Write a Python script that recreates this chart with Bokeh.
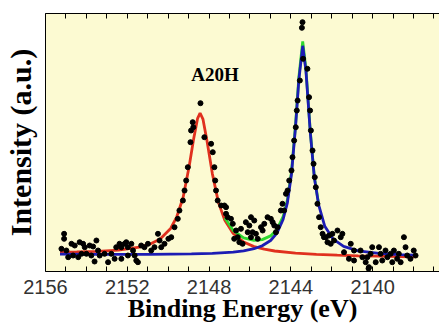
from bokeh.plotting import figure
from bokeh.models import Range1d, FixedTicker, LinearAxis, Label
from bokeh.embed import file_html
from bokeh.resources import INLINE

# ---------------- data ----------------
x_ticks = [2156, 2152, 2148, 2144, 2140]
x_minor = [2155, 2154, 2153, 2151, 2150, 2149, 2147, 2146, 2145, 2143, 2142, 2141, 2139, 2138, 2137]

red_E = [2155.29, 2154.47, 2153.45, 2152.43, 2151.41, 2150.90, 2150.39, 2149.88, 2149.58, 2149.27,
         2148.97, 2148.76, 2148.56, 2148.44, 2148.30, 2148.10, 2147.84, 2147.54, 2147.23, 2146.82,
         2146.31, 2145.80, 2145.30, 2144.79, 2143.77, 2142.75, 2141.73, 2140.71, 2139.69, 2138.67, 2137.95]
red_I = [18.4, 18.6, 19.2, 20.4, 23.3, 26.3, 31.6, 42.0, 53.7, 73.0,
         104.5, 131.0, 152.2, 157.5, 151.4, 129.4, 96.9, 67.9, 50.3, 37.1,
         28.5, 23.9, 21.3, 19.5, 17.4, 16.2, 15.4, 14.7, 14.3, 13.9, 13.6]

blue_E = [2155.29, 2152.94, 2150.90, 2148.86, 2147.84, 2146.82, 2146.31, 2145.80, 2145.40, 2144.99,
          2144.68, 2144.38, 2144.17, 2143.97, 2143.77, 2143.61, 2143.42, 2143.26, 2143.05, 2142.85,
          2142.64, 2142.34, 2141.93, 2141.42, 2140.71, 2139.69, 2138.67, 2137.95]
blue_I = [16.3, 16.1, 16.2, 16.6, 17.2, 18.4, 19.7, 21.8, 24.7, 30.0,
          37.4, 51.0, 67.7, 96.2, 143.9, 190.4, 224.7, 199.2, 138.2, 92.6,
          65.6, 44.2, 31.3, 24.1, 19.6, 17.1, 15.9, 15.3]

green_E = [2147.23, 2146.82, 2146.31, 2145.80, 2145.40, 2144.99, 2144.68, 2144.38,
           2144.17, 2143.97, 2143.77, 2143.61, 2143.42, 2143.26, 2143.05, 2142.85, 2142.64]
green_I = [52.7, 40.0, 32.7, 30.2, 30.9, 34.6, 41.1, 54.0,
           70.4, 98.6, 145.8, 193.0, 229.0, 201.0, 139.4, 93.6, 66.5]

dot_E = [
    2155.09, 2155.09, 2155.22, 2154.98, 2154.73, 2154.57, 2154.33, 2154.16, 2154.08, 2153.84,
    2153.67, 2153.51, 2153.43, 2153.60, 2153.35, 2153.11, 2152.94, 2152.78, 2152.62, 2152.54,
    2152.38, 2152.29, 2152.13, 2152.05, 2151.97, 2151.80, 2151.72, 2151.64, 2151.56, 2151.48,
    2151.32, 2151.16, 2150.99, 2150.83, 2150.67, 2150.50, 2150.42, 2150.34, 2154.89, 2154.65,
    2154.40, 2154.24, 2154.00, 2153.76, 2151.97, 2152.29,
    2148.42, 2148.88, 2148.77, 2148.91, 2148.80, 2148.23, 2147.90, 2147.82, 2149.04, 2149.12,
    2149.20, 2149.28, 2149.45, 2149.53, 2149.69, 2149.85, 2149.99, 2150.18, 2147.74, 2147.70,
    2147.66, 2147.58, 2147.41, 2147.25, 2147.17, 2147.09, 2146.93, 2146.84, 2146.68, 2146.60,
    2146.52,
    2147.17, 2146.77, 2146.36, 2146.44, 2146.20, 2146.03, 2145.95, 2145.79, 2146.11, 2145.87,
    2145.71, 2145.95, 2145.62, 2145.46, 2145.38, 2145.30, 2145.14, 2144.98, 2144.89, 2144.81,
    2144.65, 2144.73, 2144.49, 2144.41, 2144.24,
    2143.43, 2143.46, 2143.40, 2143.19, 2143.56, 2143.11, 2143.67, 2143.71, 2143.06, 2143.76,
    2143.02, 2143.84, 2142.94, 2143.92, 2142.89, 2143.97, 2144.08, 2142.83, 2142.78, 2144.16,
    2142.70, 2144.33, 2142.62, 2142.54, 2142.45, 2142.38,
    2142.29, 2142.21, 2142.13, 2141.97, 2141.89, 2141.72, 2141.56, 2141.48, 2142.05, 2141.40,
    2141.16, 2141.07, 2140.91, 2140.59, 2140.34, 2140.26, 2140.18, 2140.10, 2140.02, 2139.85,
    2139.69, 2139.61, 2139.53, 2139.37, 2139.28, 2139.12, 2139.04, 2138.96, 2138.80, 2138.72,
    2138.63, 2138.47, 2138.39, 2138.31, 2138.15, 2137.99, 2137.90, 2140.91, 2140.50, 2140.20,
]
dot_I = [
    36.7, 31.7, 21.7, 20.0, 26.7, 25.0, 28.3, 26.7, 23.3, 25.0,
    24.0, 30.0, 20.0, 9.0, 15.0, 16.7, 8.3, 16.7, 11.7, 23.3,
    26.7, 23.3, 26.7, 28.3, 23.3, 26.7, 20.0, 15.0, 10.0, 8.3,
    25.0, 23.3, 26.7, 20.0, 23.3, 36.7, 30.0, 23.3, 13.3, 15.0,
    13.3, 16.7, 16.7, 15.0, 15.0, 11.7,
    167.3, 140.0, 143.3, 128.3, 148.3, 133.3, 126.7, 118.3, 103.3, 90.0,
    80.0, 70.0, 60.0, 51.7, 43.3, 33.3, 31.7, 26.7, 103.3, 90.0,
    80.0, 70.0, 65.0, 65.0, 56.7, 53.3, 51.7, 46.7, 40.0, 33.3,
    28.3,
    63.3, 31.7, 26.7, 41.7, 48.3, 45.0, 53.3, 50.0, 38.3, 38.3,
    36.7, 33.3, 31.7, 43.3, 40.0, 46.7, 53.3, 51.7, 48.3, 45.0,
    43.3, 38.3, 60.0, 66.7, 76.7,
    248.3, 242.7, 211.7, 201.7, 190.0, 173.3, 170.0, 160.0, 160.0, 143.3,
    140.0, 130.0, 120.0, 113.3, 106.7, 100.0, 90.0, 93.3, 83.3, 80.0,
    66.7, 60.0, 53.3, 43.3, 36.7, 33.3,
    33.3, 28.3, 35.0, 36.7, 30.0, 40.0, 33.3, 36.7, 26.7, 18.3,
    11.7, 26.7, 20.0, 20.0, 8.3, 13.3, 3.3, 16.7, 23.3, 8.3,
    23.3, 16.7, 10.0, 20.0, 13.3, 16.7, 8.3, 20.0, 11.7, 16.7,
    8.3, 33.3, 23.3, 15.0, 11.7, 20.0, 15.0, 10.0, 13.3, 2.0,
]

sample_name = "A20H"
x_title = "Binding Energy (eV)"
y_title = "Intensity (a.u.)"

# ---------------- figure ----------------
p = figure(width=439, height=332, output_backend="svg", toolbar_location=None,
           x_range=Range1d(2156, 2136.73), y_range=Range1d(-1, 257),
           x_axis_location=None, y_axis_location=None,
           min_border_left=44, min_border_right=0, min_border_top=13, min_border_bottom=61)
p.border_fill_color = "white"
p.background_fill_color = "#FCFAD2"
p.outline_line_color = None
p.grid.visible = False

ticker = FixedTicker(ticks=x_ticks, minor_ticks=x_minor)

xb = LinearAxis(ticker=ticker, bounds=(2135.32, 2156))
xb.major_tick_in = 5
xb.major_tick_out = 0
xb.minor_tick_in = 5
xb.minor_tick_out = 0
xb.axis_line_color = "black"
xb.major_tick_line_color = "black"
xb.minor_tick_line_color = "black"
xb.major_label_text_font = "Liberation Sans"
xb.major_label_text_font_size = "20px"
xb.major_label_text_color = "#333333"
xb.major_label_standoff = 8
xb.axis_label = x_title
xb.axis_label_text_font = "Liberation Serif"
xb.axis_label_text_font_style = "bold"
xb.axis_label_text_font_size = "26px"
xb.axis_label_text_color = "black"
xb.axis_label_standoff = -3
p.add_layout(xb, "below")

xt = LinearAxis(ticker=ticker)
xt.major_tick_in = 5
xt.major_tick_out = 0
xt.minor_tick_in = 5
xt.minor_tick_out = 0
xt.axis_line_color = "black"
xt.major_tick_line_color = "black"
xt.minor_tick_line_color = "black"
xt.major_label_text_font_size = "0px"
xt.major_label_text_color = None
xt.major_label_standoff = 0
p.add_layout(xt, "above")

yl = LinearAxis(ticker=FixedTicker(ticks=[]))
yl.major_tick_in = 0
yl.major_tick_out = 0
yl.minor_tick_in = 0
yl.minor_tick_out = 0
yl.major_label_text_font_size = "0px"
yl.major_label_standoff = 0
yl.axis_line_color = "black"
yl.axis_label = y_title
yl.axis_label_text_font = "Liberation Serif"
yl.axis_label_text_font_style = "bold"
yl.axis_label_text_font_size = "30px"
yl.axis_label_text_color = "black"
yl.axis_label_standoff = 9
p.add_layout(yl, "left")

# fitted components: red, then green envelope, then blue on top
p.line(red_E, red_I, line_color="#E0301E", line_width=2.8)
p.line(green_E, green_I, line_color="#2ED82E", line_width=2.8)
p.line(blue_E, blue_I, line_color="#1C1CB4", line_width=2.8)

# measured points
p.scatter(dot_E, dot_I, size=5, fill_color="black", line_color="black")

p.add_layout(Label(x=2147.71, y=196, text=sample_name, text_align="center",
                   text_baseline="middle", text_font="Liberation Serif",
                   text_font_style="bold", text_font_size="19px", text_color="black"))

open("out.html", "w").write(file_html(p, INLINE))
